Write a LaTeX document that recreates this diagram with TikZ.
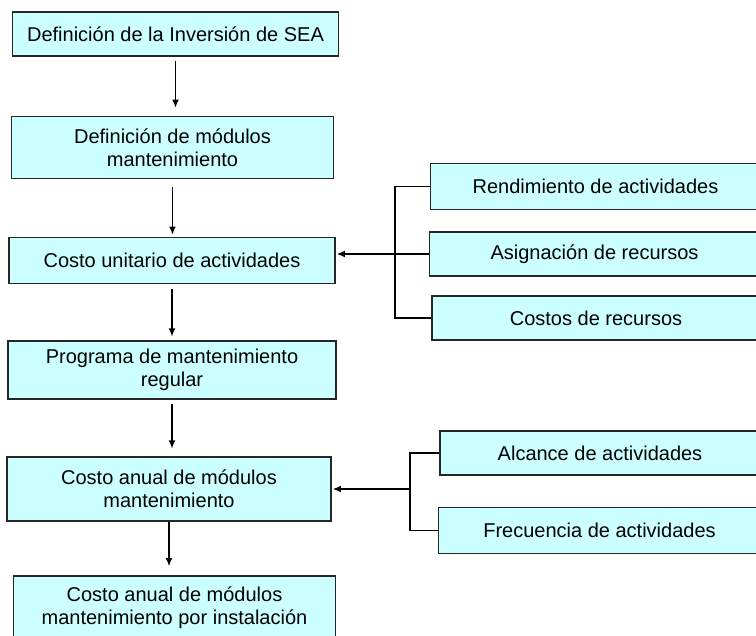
\documentclass[tikz,border=0pt]{standalone}
\usepackage{fontspec}
\setmainfont{Liberation Sans}
\usetikzlibrary{positioning,calc,arrows.meta}
\tikzset{>={Latex[length=6pt,width=5pt]}}
\definecolor{boxcyan}{HTML}{CCFFFF}
\tikzset{
  box/.style={draw=black!85,fill=boxcyan,line width=.8pt,inner sep=0pt,align=center,
    font=\fontsize{15}{17}\selectfont},
  link/.style={line width=.9pt},
}

\begin{document}
\begin{tikzpicture}[x=.75pt,y=-.75pt]
\clip (0,0) rectangle (756,635);
\fill[white] (0,0) rectangle (756,635);
% main column
\node[box,minimum width=245pt,minimum height=33pt] (def) at (175.5,34) {Definición de la Inversión de SEA};
\node[box,minimum width=242pt,minimum height=47pt] (modulos) at (172.5,147.5) {Definición de módulos\\mantenimiento};
\node[box,minimum width=244.5pt,minimum height=34pt] (unitario) at (172,260.5) {Costo unitario de actividades};
\node[box,minimum width=246pt,minimum height=43.5pt] (programa) at (172,370) {Programa de mantenimiento\\regular};
\node[box,minimum width=243pt,minimum height=48pt] (anual) at (169,489) {Costo anual de módulos\\mantenimiento};
\node[box,minimum width=242pt,minimum height=48pt] (instal) at (174.5,608) {Costo anual de módulos\\mantenimiento por instalación};
% inputs on the right
\node[box,minimum width=247pt,minimum height=34pt] (rend) at (595.5,186.5) {Rendimiento de actividades};
\node[box,minimum width=248pt,minimum height=33pt] (asig) at (594.5,254) {Asignación de recursos};
\node[box,minimum width=246pt,minimum height=33pt] (costos) at (596,318) {Costos de recursos};
\node[box,minimum width=240pt,minimum height=33pt] (alcance) at (600,453) {Alcance de actividades};
\node[box,minimum width=241pt,minimum height=34pt] (frec) at (599.5,530.5) {Frecuencia de actividades};
\coordinate (brk1) at (395,0);
\coordinate (brk2) at (410,0);
% arrows down the column
\foreach \a/\b/\s/\e in {def/modulos/3/6,modulos/unitario/6/2,unitario/programa/4/3,programa/anual/3/6,anual/instal/0/7}
  \draw[link,->,shorten <=\s pt,shorten >=\e pt] (\a.south) -- (\a.south |- \b.north);
% brackets
\draw[link] (rend.west) -- (rend.west -| brk1) -- (costos.west -| brk1) -- (costos.west);
\draw[link,->,shorten >=1pt] (asig.west) -- (asig.west -| unitario.east);
\draw[link] (alcance.west) -- (alcance.west -| brk2) -- (frec.west -| brk2) -- (frec.west);
\draw[link,->,shorten >=1pt] (brk2 |- anual.east) -- (anual.east);
\end{tikzpicture}
\end{document}
